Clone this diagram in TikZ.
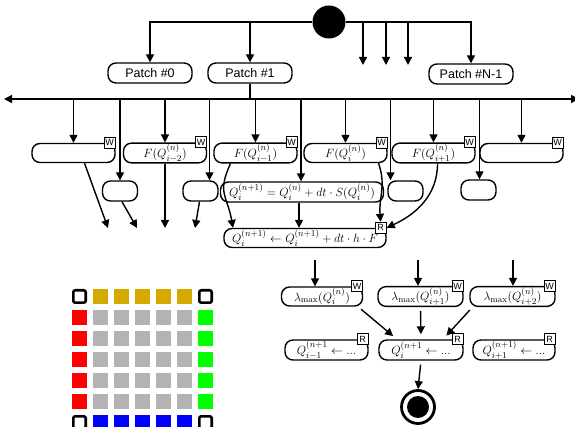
\documentclass[tikz,border=0pt]{standalone}
\usepackage{amsmath,amssymb}
\usepackage{fontspec}
\setsansfont{Liberation Sans}
\usepackage{xcolor}
\usepackage{tikz}
\usetikzlibrary{arrows.meta,positioning,calc}

\definecolor{cellgold}{HTML}{D4AA00}
\definecolor{cellred}{HTML}{FF0000}
\definecolor{cellgreen}{HTML}{00FF00}
\definecolor{cellblue}{HTML}{0000FF}
\definecolor{cellgray}{HTML}{B3B3B3}

\begin{document}
\begin{tikzpicture}[x=1pt, y=-1pt,
  every node/.style={font=\fontsize{12.5}{14}\selectfont, align=center},
  pill/.style={draw, line width=1.4pt, rounded corners=8pt, minimum height=19pt, inner sep=1pt},
  patch/.style={pill, font=\sffamily\fontsize{12.5}{14}\selectfont, minimum width=84pt, minimum height=20pt},
  task/.style={pill, minimum width=83pt},
  small/.style={pill, minimum width=35pt, minimum height=20pt},
  tag/.style={draw, fill=white, line width=1.1pt, anchor=east, inner sep=0pt,
    minimum width=11pt, minimum height=11pt, font=\sffamily\fontsize{9}{9}\selectfont},
  arr/.style={draw, line width=1.4pt, -{Triangle[length=8pt,width=8pt]}},
  corner/.style={draw, line width=2.6pt, rounded corners=2pt}]
  \useasboundingbox (0,0) rectangle (575,427);

  % fork
  \node[circle, fill, inner sep=0pt, minimum size=33pt] (start) at (329,22) {};
  \node[patch] (p0) at (150,73) {Patch \#0};
  \node[patch] (p1) at (250,73) {Patch \#1};
  \node[patch] (pN) at (471,74) {Patch \#N-1};
  \draw[arr] (start.west) -| (p0.north);
  \draw[arr] (start.west -| p1.north) -- (p1.north);
  \draw[arr] (start.east) -| (pN.north);
  \foreach \x in {363,386,408} {
    \coordinate (f) at (\x,65);
    \draw[arr] (start.east -| f) -- (f);
  }

  % bus
  \coordinate (busL) at (4,99);
  \coordinate (busR) at (579,99);
  \draw[line width=1.4pt, {Triangle[length=8pt,width=8pt]}-{Triangle[length=8pt,width=8pt]}] (busL) -- (busR);
  \draw[line width=1.4pt] (p1.south) -- (p1.south |- busL);

  % fluxes
  \node[task] (w1) at (73.5,153) {};
  \node[task] (w2) at (165,153) {$F(Q_{i-2}^{(n)})$};
  \node[task] (w3) at (255.5,153) {$F(Q_{i-1}^{(n)})$};
  \node[task] (w4) at (345.5,153) {$F(Q_i^{(n)})$};
  \node[task] (w5) at (433.5,153) {$F(Q_{i+1}^{(n)})$};
  \node[task] (w6) at (521.5,153) {};
  \foreach \n in {w1,w2,w3,w4,w5,w6} {
    \draw[arr] (busL -| \n.north) -- (\n.north);
    \node[tag] at (\n.north east) {W};
  }

  % sources
  \node[small] (s1) at (120,191) {};
  \node[small] (s2) at (200.5,191) {};
  \node[pill, minimum width=163pt, minimum height=20pt] (S) at (302,192)
    {$Q_i^{(n+1)} = Q_i^{(n)} + dt\cdot S(Q_i^{(n)})$};
  \node[small] (s3) at (405.5,191) {};
  \node[small] (s4) at (478.5,190) {};
  \foreach \n/\dx in {s1/0, s2/9, S/-1, s3/-15, s4/1} {
    \path ([xshift=\dx pt]\n.north) coordinate (t);
    \draw[arr] (busL -| t) -- (t);
  }

  % update
  \node[pill, minimum width=162pt, minimum height=18pt] (upd) at (305,238)
    {$Q_i^{(n+1)} \leftarrow Q_i^{(n+1)} + dt\cdot h\cdot F$};
  \node[tag] (updR) at (upd.north east) {R};
  \coordinate (e1) at (108,228);
  \coordinate (e2) at (137,228);
  \coordinate (e4) at (195,228);
  \draw[arr] ([xshift=11pt]w1.south) -- (e1);
  \draw[arr] ([xshift=2pt]s1.south) -- (e2);
  \draw[arr] (w2.south) -- (w2.south |- e1);
  \draw[arr] ([xshift=-1pt]s2.south) -- (e4);
  \draw[arr] ([xshift=-25pt]w3.south) to[out=-115, in=100, looseness=1.3] ([xshift=-72pt]upd.north);
  \draw[arr] ([xshift=-3pt]S.south) -- ([xshift=-3pt]S.south |- upd.north);
  \draw[arr] ([xshift=33pt]w4.south) to[out=-70, in=95] (updR.north);
  \draw[arr] ([xshift=4pt]w5.south) to[out=-90, in=25] (updR.east);

  % time step
  \node[task, minimum width=81pt, minimum height=17pt] (l1) at (322,296.5) {$\lambda_{\max}(Q_i^{(n)})$};
  \node[task, minimum width=85pt, minimum height=17pt] (l2) at (420.5,296.5) {$\lambda_{\max}(Q_{i+1}^{(n)})$};
  \node[task, minimum width=85pt, minimum height=17pt] (l3) at (512.5,296.5) {$\lambda_{\max}(Q_{i+2}^{(n)})$};
  \foreach \n/\x in {l1/315, l2/418, l3/513} {
    \coordinate (c) at (\x,260);
    \draw[arr] (c) -- (c |- \n.north);
    \node[tag] at (\n.north east) {W};
  }
  \node[task, minimum width=83pt, minimum height=20pt] (q1) at (326.5,350) {$Q_{i-1}^{(n+1}\leftarrow ...$};
  \node[task, minimum width=84pt, minimum height=20pt] (q2) at (421,350) {$Q_i^{(n+1}\leftarrow ...$};
  \node[task, minimum width=82pt, minimum height=20pt] (q3) at (514,350) {$Q_{i+1}^{(n+1)}\leftarrow ...$};
  \foreach \n in {q1,q2,q3}
    \node[tag] at (\n.north east) {R};
  \draw[arr, shorten <=4pt, shorten >=5pt] ([xshift=36pt]l1.south) -- ([xshift=-24pt]q2.north);
  \draw[arr, shorten <=4pt, shorten >=5pt] (l2.south) -- (q2.north);
  \draw[arr, shorten <=4pt, shorten >=5pt] ([xshift=-40pt]l3.south) -- ([xshift=22pt]q2.north);
  \node[circle, draw, line width=2.8pt, inner sep=0pt, minimum size=33pt,
    path picture={\fill (path picture bounding box.center) circle (11pt);}] (stop) at (418,407) {};
  \draw[arr, shorten <=4pt] (q2.south) -- (stop.north);

  % patch cells
  \foreach \i in {1,...,5} {
    \fill[cellgold] ({72+21*\i},289) rectangle +(15,15);
    \fill[cellblue] ({72+21*\i},415) rectangle +(15,15);
    \fill[cellred] (72,{289+21*\i}) rectangle +(15,15);
    \fill[cellgreen] (198,{289+21*\i}) rectangle +(15,15);
    \foreach \j in {1,...,5}
      \fill[cellgray] ({72+21*\i},{289+21*\j}) rectangle +(15,15);
  }
  \foreach \x/\y in {72/289, 198/289, 72/415, 198/415}
    \draw[corner] ({\x+1.3},{\y+1.3}) rectangle +(12.4,12.4);
\end{tikzpicture}
\end{document}
